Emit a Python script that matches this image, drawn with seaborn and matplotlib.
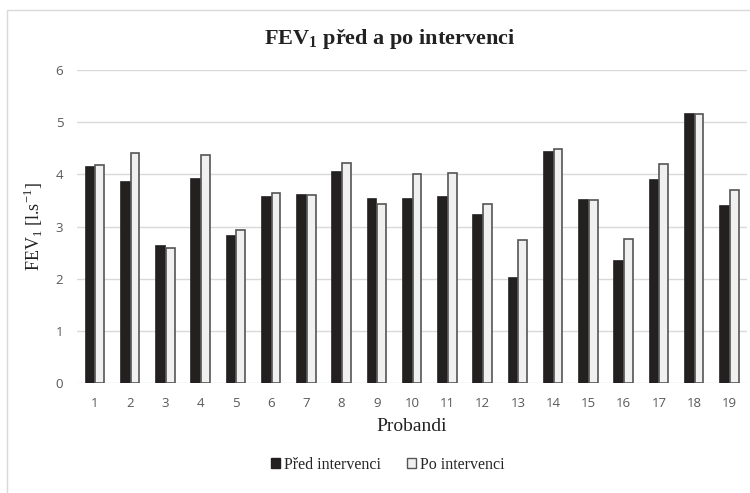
import numpy as np
import pandas as pd
import seaborn as sns
from matplotlib import pyplot as plt
from matplotlib.patches import Rectangle

probandi = [str(i) for i in range(1, 20)]
pred = [4.14, 3.85, 2.62, 3.92, 2.82, 3.56, 3.61, 4.04, 3.53, 3.53,
        3.56, 3.22, 2.02, 4.43, 3.51, 2.34, 3.90, 5.16, 3.40]
po = [4.18, 4.41, 2.59, 4.37, 2.93, 3.65, 3.60, 4.22, 3.44, 4.01,
      4.03, 3.43, 2.74, 4.49, 3.51, 2.76, 4.20, 5.16, 3.70]
skupiny = ['Před intervenci', 'Po intervenci']

data = pd.DataFrame({
    'proband': probandi * 2,
    'fev': pred + po,
    'skupina': [skupiny[0]] * len(pred) + [skupiny[1]] * len(po),
})

sns.set_theme(style='white')
plt.rcParams['mathtext.fontset'] = 'custom'
plt.rcParams['mathtext.rm'] = 'Liberation Serif'
plt.rcParams['mathtext.bf'] = 'Liberation Serif:bold'
plt.rcParams['font.family'] = ['Liberation Serif', 'DejaVu Serif']

fig = plt.figure(figsize=(7.5, 4.93), dpi=100)
ax = fig.add_axes([0.103, 0.223, 0.893, 0.635])

# excel-like chart border (only left/top visible)
fig.patches.append(Rectangle((7 / 750, -0.2), 1.2, 1 - 10 / 493 + 0.2,
                             transform=fig.transFigure, fill=False,
                             edgecolor='#d9d9d9', linewidth=1.0, zorder=0))

sns.barplot(data=data, x='proband', y='fev', hue='skupina', order=probandi,
            hue_order=skupiny, palette=['#231f20', '#f0f0f0'],
            width=0.56, gap=0.12, ax=ax, legend=True)

edges = ['#231f20', '#555555']
for cont, ec in zip(ax.containers, edges):
    for bar in cont:
        bar.set_edgecolor(ec)
        bar.set_linewidth(1.2)

ax.set_ylim(0, 6)
ax.set_yticks(range(0, 7))
ax.grid(axis='y', color='#d9d9d9', linewidth=1)
ax.set_axisbelow(True)
for s in ax.spines.values():
    s.set_visible(False)
ax.tick_params(axis='both', length=0, labelsize=9.5, labelcolor='#595959', pad=10)
for lab in ax.get_xticklabels() + ax.get_yticklabels():
    lab.set_family('Open Sans')

ax.set_xlabel('Probandi', fontsize=14, color='#222222', labelpad=6)
ax.set_ylabel(r'FEV$_1$ [l.s$^{-1}$]', fontsize=13, color='#222222', labelpad=8)
fig.text(0.52, 0.92, r'FEV$_\mathbf{1}$ před a po intervenci', ha='center', va='center',
         fontsize=16, fontweight='bold', color='#222222')

h, l = ax.get_legend_handles_labels()
leg = ax.legend(h, l, loc='center', bbox_to_anchor=(0.517, 0.057),
                bbox_transform=fig.transFigure, ncol=2, frameon=False,
                fontsize=11.5, handlelength=0.6, handleheight=0.6,
                handletextpad=0.25, columnspacing=1.6)
for patch, ec in zip(leg.get_patches(), edges):
    patch.set_edgecolor(ec)
    patch.set_linewidth(1.0)

fig.savefig('out.png', dpi=100)
